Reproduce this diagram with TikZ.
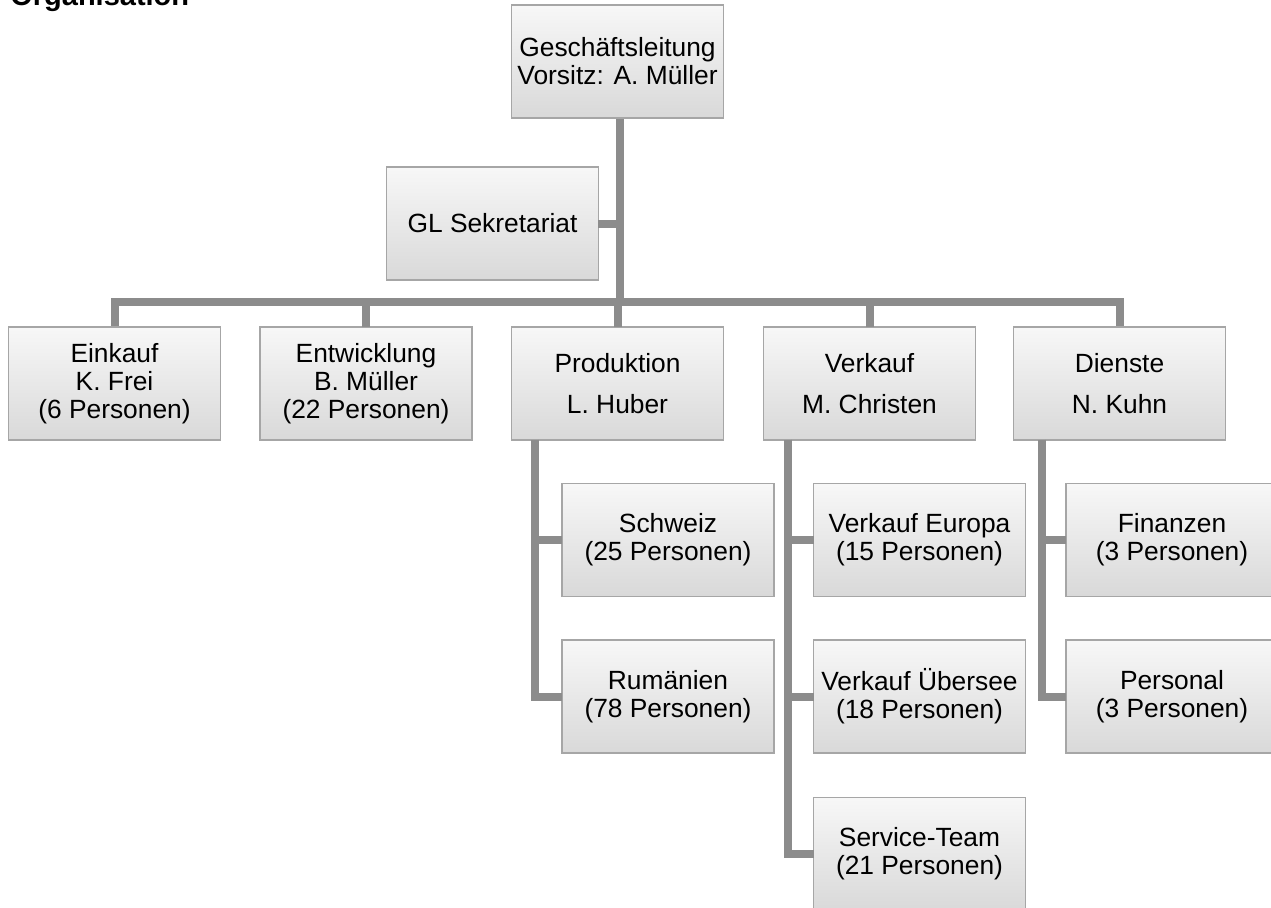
\documentclass[tikz,border=0pt]{standalone}
\usepackage{fontspec}
\setmainfont{Liberation Sans}
\usepackage{tikz}
\usetikzlibrary{positioning,calc}
\definecolor{boxline}{RGB}{166,166,166}
\definecolor{linkgray}{RGB}{140,140,140}
\begin{document}
\begin{tikzpicture}[x=0.02cm, y=-0.02cm,
  unit/.style={draw=boxline, line width=0.8pt, top color=gray!6, bottom color=gray!30, align=center, minimum width=4.24cm, minimum height=2.26cm, inner sep=2pt, outer sep=0pt, font=\fontsize{15}{16}\selectfont},
  link/.style={linkgray, line width=0.16cm}]
\useasboundingbox (0,0) rectangle (1271,907);
\clip (0,0) rectangle (1271,907);
\node[anchor=base west, inner sep=0pt, font=\bfseries\fontsize{16.5}{19}\selectfont] (titel) at (10,5) {Organisation};
\coordinate (bus) at (620,302);
\draw[link] (620,115) -- (bus);
\draw[link] (115,327) -- (115,302) -- (1120,302) -- (1120,327);
\node[unit] (gf) at (617.5,61.5) {Geschäftsleitung\\ Vorsitz: A. Müller};
\node[unit] (sek) at (492.5,223.5) {GL Sekretariat};
\draw[link] (sek.east) -- (sek.east -| bus);
\node[unit] (eink) at (114.5,383.5) {Einkauf\\ K. Frei\\ (6 Personen)};
\node[unit] (entw) at (366,383.5) {Entwicklung\\ B. Müller\\ (22 Personen)};
\node[unit] (prod) at (617.5,383.5) {Produktion\\[0.26cm] L. Huber};
\node[unit] (verk) at (869.5,383.5) {Verkauf\\[0.26cm] M. Christen};
\node[unit] (dien) at (1119.5,383.5) {Dienste\\[0.26cm] N. Kuhn};
\draw[link] (entw.north) -- (entw.north |- bus);
\draw[link] (prod.north) -- (prod.north |- bus);
\draw[link] (verk.north) -- (verk.north |- bus);
\node[unit] (schw) at (668,540) {Schweiz\\ (25 Personen)};
\node[unit] (rum) at (668,696.5) {Rumänien\\ (78 Personen)};
\node[unit] (veur) at (919.5,540) {Verkauf Europa\\ (15 Personen)};
\node[unit] (vueb) at (919.5,696.5) {Verkauf Übersee\\ (18 Personen)};
\node[unit] (serv) at (919.5,854) {Service-Team\\ (21 Personen)};
\node[unit] (fin) at (1172,540) {Finanzen\\ (3 Personen)};
\node[unit] (pers) at (1172,696.5) {Personal\\ (3 Personen)};
\draw[link] ([xshift=0.46cm]prod.south west) |- (rum.west);
\draw[link] ([xshift=0.46cm]prod.south west) |- (schw.west);
\draw[link] ([xshift=0.48cm]verk.south west) |- (serv.west);
\draw[link] ([xshift=0.48cm]verk.south west) |- (vueb.west);
\draw[link] ([xshift=0.48cm]verk.south west) |- (veur.west);
\draw[link] ([xshift=0.56cm]dien.south west) |- (pers.west);
\draw[link] ([xshift=0.56cm]dien.south west) |- (fin.west);
\end{tikzpicture}
\end{document}
